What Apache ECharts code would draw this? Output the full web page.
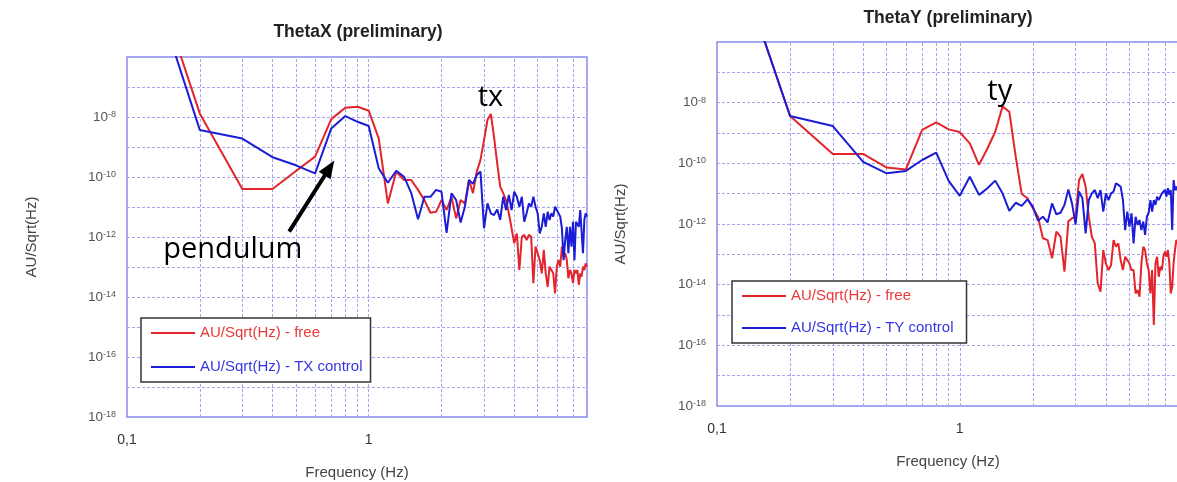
<!DOCTYPE html>
<html>
<head>
<meta charset="utf-8">
<script src="https://cdn.jsdelivr.net/npm/echarts@6/dist/echarts.min.js"></script>
<style>
  html, body { margin: 0; padding: 0; background: #ffffff; }
  #chart { width: 1177px; height: 482px; }
</style>
</head>
<body>
<div id="chart"></div>
<script>
// Frequency bins (Hz), 0.1 Hz resolution
const freqHz = [
  0.1, 0.2, 0.3, 0.4, 0.5, 0.6, 0.7, 0.8, 0.9, 1.0,
  1.1, 1.2, 1.3, 1.4, 1.5, 1.6, 1.7, 1.8, 1.9, 2.0,
  2.1, 2.2, 2.3, 2.4, 2.5, 2.6, 2.7, 2.8, 2.9, 3.0,
  3.1, 3.2, 3.3, 3.4, 3.5, 3.6, 3.7, 3.8, 3.9, 4.0,
  4.1, 4.2, 4.3, 4.4, 4.5, 4.6, 4.7, 4.8, 4.9, 5.0,
  5.1, 5.2, 5.3, 5.4, 5.5, 5.6, 5.7, 5.8, 5.9, 6.0,
  6.1, 6.2, 6.3, 6.4, 6.5, 6.6, 6.7, 6.8, 6.9, 7.0,
  7.1, 7.2, 7.3, 7.4, 7.5, 7.6, 7.7, 7.8, 7.9, 8.0
];

// Spectral amplitudes, stored as log10(AU/Sqrt(Hz)), one value per bin
const thetaXFreeLog = [
  -0.55, -7.88, -10.4, -10.4, -9.8, -9.32, -8.07, -7.69, -7.66, -7.79,
  -8.71, -10.88, -9.82, -10.1, -10.1, -10.43, -10.77, -11.19, -11.16, -10.77,
  -11.1, -10.66, -11.38, -10.77, -10.88, -10.1, -10.54, -9.82, -9.43, -8.77,
  -8.1, -7.9, -8.66, -9.54, -10.32, -10.54, -10.77, -11.21, -11.71, -12.21,
  -11.88, -13.1, -11.99, -11.93, -12.1, -11.93, -11.99, -13.54, -12.32, -12.54,
  -12.77, -13.21, -12.43, -13.21, -13.66, -12.99, -13.1, -13.21, -13.88, -12.99,
  -12.77, -12.99, -12.32, -12.66, -12.54, -12.77, -13.38, -13.1, -13.21, -13.54,
  -13.1, -13.21, -13.1, -13.6, -13.21, -13.32, -12.99, -13.1, -12.88, -12.99
];
const thetaXControlLog = [
  -0.94, -8.43, -8.72, -9.34, -9.61, -9.88, -8.38, -7.97, -8.16, -8.3,
  -9.71, -10.19, -9.79, -9.99, -10.54, -11.41, -10.66, -10.66, -10.43, -10.49,
  -11.86, -10.54, -10.77, -11.52, -10.99, -10.1, -10.23, -9.93, -9.82, -11.71,
  -10.88, -11.21, -11.27, -11.08, -11.43, -10.66, -11.1, -10.6, -11.1, -10.49,
  -10.66, -10.99, -10.66, -11.49, -11.21, -10.88, -10.99, -10.66, -10.99, -11.21,
  -11.88, -11.66, -11.21, -11.66, -11.16, -11.43, -11.21, -11.32, -10.99, -11.1,
  -11.05, -11.32, -11.71, -12.77, -12.1, -11.66, -12.54, -11.66, -12.32, -11.49,
  -12.77, -11.49, -11.43, -11.66, -11.1, -11.16, -12.54, -11.43, -11.21, -11.32
];
const thetaYFreeLog = [
  -1.37, -8.44, -9.69, -9.69, -10.14, -10.2, -8.9, -8.65, -8.88, -8.97,
  -9.34, -10.05, -9.51, -8.96, -8.13, -8.3, -9.78, -11.01, -11.15, -11.48,
  -11.76, -12.47, -12.53, -13.13, -12.25, -12.42, -13.57, -11.92, -11.81, -11.76,
  -10.55, -10.35, -10.77, -11.76, -12.42, -12.64, -13.96, -14.23, -12.86, -13.3,
  -13.52, -13.35, -12.53, -12.75, -12.64, -13.19, -13.52, -13.08, -13.19, -13.3,
  -13.52, -13.52, -14.29, -14.18, -14.4, -13.3, -12.75, -12.86, -13.3, -13.52,
  -14.29, -13.52, -15.33, -13.3, -13.08, -13.74, -13.41, -13.52, -13.08, -12.91,
  -13.08, -12.86, -13.3, -14.29, -14.07, -13.3, -12.86, -12.53, -12.6, -12.9
];
const thetaYControlLog = [
  -1.37, -8.44, -8.77, -9.95, -10.33, -10.25, -9.89, -9.65, -10.58, -11.07,
  -10.44, -11.04, -10.82, -10.57, -10.99, -11.57, -11.3, -11.4, -11.19, -11.43,
  -11.89, -11.76, -11.95, -11.32, -11.68, -11.63, -11.37, -10.86, -11.32, -12.01,
  -10.93, -11.15, -12.31, -11.21, -10.99, -10.88, -11.15, -10.88, -11.59, -10.99,
  -11.21, -10.99, -10.93, -10.66, -10.71, -10.77, -11.21, -12.2, -11.59, -12.09,
  -11.65, -12.64, -11.76, -12.03, -11.87, -12.2, -11.92, -12.36, -11.76, -11.63,
  -11.21, -11.59, -11.21, -11.37, -11.1, -11.21, -11.1, -10.99, -11.04, -10.88,
  -11.1, -10.82, -11.04, -10.88, -12.2, -10.55, -10.88, -10.77, -10.9, -11.0
];

// Grid line positions
const gridFreqs = [0.2, 0.3, 0.4, 0.5, 0.6, 0.7, 0.8, 0.9, 1, 2, 3, 4, 5, 6, 7];
const gridDecades = [1e-7, 1e-8, 1e-9, 1e-10, 1e-11, 1e-12, 1e-13, 1e-14, 1e-15, 1e-16, 1e-17];
const freqRange = [0.1, 8];

// Series names and panel titles
const panelTitles = ['ThetaX (preliminary)', 'ThetaY (preliminary)'];
const freeName = 'AU/Sqrt(Hz) - free';
const txName = 'AU/Sqrt(Hz) - TX control';
const tyName = 'AU/Sqrt(Hz) - TY control';

// Annotation anchors in data coordinates [Hz, amplitude]
const pendulumAt = [0.274, Math.pow(10, -12.43)];
const arrowFrom = [0.4687, Math.pow(10, -11.82)];
const arrowTo = [0.688, Math.pow(10, -9.7)];
const txAt = [3.19, Math.pow(10, -7.37)];
const tyAt = [1.461, Math.pow(10, -7.65)];

const RED = '#e3242b';
const BLUE = '#1c1cd6';
const RED_TEXT = '#e83a3a';
const BLUE_TEXT = '#3535e0';
const GRID_COLOR = '#a4a4ef';
const FRAME_COLOR = '#8a8aee';
const FONT = 'Liberation Sans, Arial, sans-serif';

const toPoints = (logs) => freqHz.map((f, i) => [f, Math.pow(10, logs[i])]);

function freqLabel(v) {
  if (Math.abs(v - 0.1) < 1e-9) return '0,1';
  if (Math.abs(v - 1) < 1e-9) return '1';
  return '';
}
function powerLabel(v) {
  const e = Math.round(Math.log10(v));
  if (e >= -6) return '';
  return '{b|10}{s|' + e + '}';
}

function xAxisFor(idx) {
  return {
    gridIndex: idx, type: 'log', logBase: 10, min: freqRange[0], max: freqRange[1],
    axisLine: { show: false }, axisTick: { show: false }, splitLine: { show: false },
    axisLabel: { margin: 16, color: '#333', fontSize: 14, fontFamily: FONT, formatter: freqLabel,
                 showMaxLabel: false },
    name: 'Frequency (Hz)', nameLocation: 'middle', nameGap: 48,
    nameTextStyle: { color: '#444', fontSize: 15, fontFamily: FONT }
  };
}
function yAxisFor(idx, gap) {
  return {
    gridIndex: idx, type: 'log', logBase: 10, min: 1e-18, max: 1e-6, interval: 2,
    axisLine: { show: false }, axisTick: { show: false }, splitLine: { show: false },
    axisLabel: {
      margin: 11, formatter: powerLabel,
      rich: {
        b: { fontSize: 13.5, color: '#555', fontFamily: FONT, verticalAlign: 'bottom' },
        s: { fontSize: 9, color: '#555', fontFamily: FONT, verticalAlign: 'top', padding: [0, 0, 5, 0] }
      }
    },
    name: 'AU/Sqrt(Hz)', nameLocation: 'middle', nameGap: gap,
    nameTextStyle: { color: '#444', fontSize: 15, fontFamily: FONT }
  };
}

function gridLineSeries(idx) {
  const vertical = gridFreqs.map(f => [{ coord: [f, 1e-18] }, { coord: [f, 1e-6] }]);
  const horizontal = gridDecades.map(v => [{ coord: [freqRange[0], v] }, { coord: [freqRange[1], v] }]);
  return {
    type: 'line', name: 'grid-lines-' + idx, xAxisIndex: idx, yAxisIndex: idx,
    data: [], silent: true,
    markLine: {
      z: 1, silent: true, symbol: 'none', animation: false,
      label: { show: false },
      emphasis: { disabled: true },
      lineStyle: { color: GRID_COLOR, width: 1, type: [3, 2] },
      data: vertical.concat(horizontal)
    }
  };
}
function spectrumSeries(idx, name, logs, color) {
  return {
    type: 'line', name: name, xAxisIndex: idx, yAxisIndex: idx,
    data: toPoints(logs), symbol: 'none', clip: true, z: 3,
    color: color, itemStyle: { color: color },
    lineStyle: { color: color, width: 2 }
  };
}
function noteSeries(idx, texts, arrows) {
  return {
    type: 'line', name: 'notes-' + idx, xAxisIndex: idx, yAxisIndex: idx,
    data: [], silent: true,
    markLine: {
      z: 6, silent: true, animation: false,
      symbol: ['none', 'triangle'], symbolSize: [14, 18],
      label: { show: false },
      emphasis: { disabled: true },
      lineStyle: { color: '#000', width: 4, type: 'solid' },
      data: arrows.map(a => [{ coord: a[0] }, { coord: a[1] }])
    },
    markPoint: {
      z: 6, silent: true, animation: false,
      symbol: 'circle', symbolSize: 0,
      label: { show: true, position: 'inside', formatter: '{b}', color: '#000',
               fontSize: 29, fontFamily: 'Open Sans, sans-serif' },
      data: texts.map(t => ({ name: t[0], coord: t[1] }))
    }
  };
}
function legendFor(left, top, gap, padRight, controlName) {
  return {
    left: left, top: top, orient: 'vertical',
    padding: [6, padRight, 6, 10], itemGap: gap,
    itemWidth: 44, itemHeight: 2, icon: 'rect',
    backgroundColor: '#ffffff', borderColor: '#333333', borderWidth: 1.5,
    selectedMode: false,
    textStyle: { fontSize: 15, fontFamily: FONT, lineHeight: 18 },
    data: [
      { name: freeName, textStyle: { color: RED_TEXT } },
      { name: controlName, textStyle: { color: BLUE_TEXT } }
    ]
  };
}

const chart = echarts.init(document.getElementById('chart'), null, { renderer: 'canvas' });
chart.setOption({
  animation: false,
  backgroundColor: '#ffffff',
  textStyle: { fontFamily: FONT },
  title: [
    { text: panelTitles[0], left: 358, top: 23, textAlign: 'center', padding: 0,
      textStyle: { fontSize: 17.5, fontWeight: 'bold', color: '#222', fontFamily: FONT } },
    { text: panelTitles[1], left: 948, top: 9, textAlign: 'center', padding: 0,
      textStyle: { fontSize: 17.5, fontWeight: 'bold', color: '#222', fontFamily: FONT } }
  ],
  grid: [
    { left: 127, top: 57, width: 460, height: 360, show: true, containLabel: false,
      outerBoundsMode: 'none',
      borderColor: FRAME_COLOR, borderWidth: 1.5, backgroundColor: 'transparent' },
    { left: 717, top: 42, width: 462, height: 364, show: true, containLabel: false,
      outerBoundsMode: 'none',
      borderColor: FRAME_COLOR, borderWidth: 1.5, backgroundColor: 'transparent' }
  ],
  xAxis: [xAxisFor(0), xAxisFor(1)],
  yAxis: [yAxisFor(0, 88), yAxisFor(1, 89)],
  legend: [
    legendFor(141, 318, 16, 8, txName),
    legendFor(732, 281, 14, 13, tyName)
  ],
  series: [
    gridLineSeries(0),
    spectrumSeries(0, freeName, thetaXFreeLog, RED),
    spectrumSeries(0, txName, thetaXControlLog, BLUE),
    noteSeries(0, [['pendulum', pendulumAt], ['tx', txAt]], [[arrowFrom, arrowTo]]),
    gridLineSeries(1),
    spectrumSeries(1, freeName, thetaYFreeLog, RED),
    spectrumSeries(1, tyName, thetaYControlLog, BLUE),
    noteSeries(1, [['ty', tyAt]], [])
  ]
});
</script>
</body>
</html>
